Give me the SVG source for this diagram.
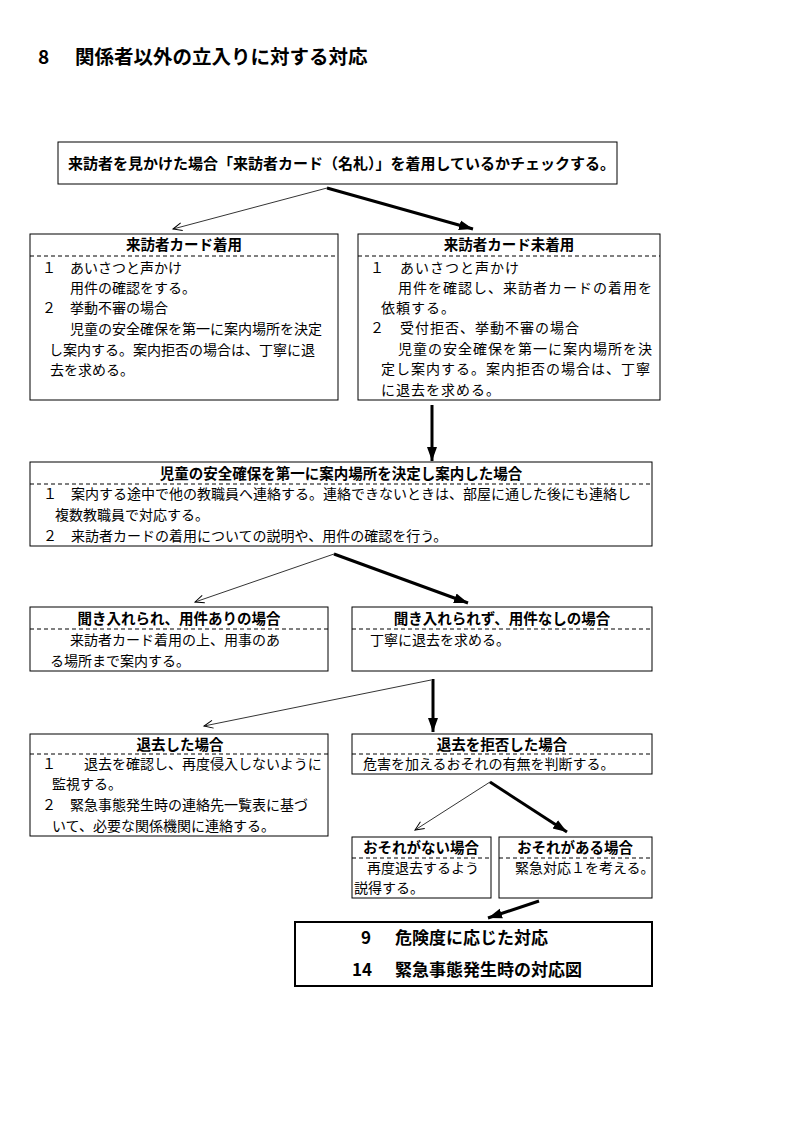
<svg xmlns="http://www.w3.org/2000/svg" width="794" height="1123" viewBox="0 0 794 1123">
<style>
text{font-family:"Noto Sans CJK JP","Noto Sans CJK SC",sans-serif;fill:#000}
.t{font-size:14.5px;font-weight:bold;text-anchor:middle}
.b{font-size:14px}
.w{font-size:14px;letter-spacing:1px}
.r{font-size:17px;font-weight:bold}
.box{fill:#fff;stroke:#000;stroke-width:1}
.dash{stroke:#000;stroke-width:1;stroke-dasharray:4 3}
.thin{stroke:#000;stroke-width:0.8;fill:none;marker-end:url(#ao)}
.thick{stroke:#000;stroke-width:3;fill:none;marker-end:url(#af)}
</style>
<defs>
<marker id="ao" markerUnits="userSpaceOnUse" markerWidth="12" markerHeight="10" refX="10" refY="5" orient="auto">
<path d="M1,1 L10,5 L1,9" fill="none" stroke="#000" stroke-width="1"/>
</marker>
<marker id="af" markerUnits="userSpaceOnUse" markerWidth="16" markerHeight="12" refX="14" refY="6" orient="auto">
<path d="M0,1 L14,6 L0,11 Z" fill="#000"/>
</marker>
</defs>
<rect width="794" height="1123" fill="#fff"/>
<g id="title">
<text x="38" y="64" style="font-size:19px;font-weight:bold">8</text>
<text x="75" y="64" style="font-size:19.5px;font-weight:bold">関係者以外の立入りに対する対応</text>
</g>

<g id="connectors">
<line class="thin" x1="327" y1="188" x2="173" y2="229"/>
<line class="thick" x1="327" y1="188" x2="473" y2="229"/>
<line class="thick" x1="432" y1="405" x2="432" y2="461"/>
<line class="thin" x1="334" y1="554" x2="195" y2="602"/>
<line class="thick" x1="334" y1="554" x2="468" y2="603"/>
<line class="thin" x1="431" y1="680" x2="204" y2="726"/>
<line class="thick" x1="433" y1="679" x2="433" y2="732"/>
<line class="thin" x1="490" y1="782" x2="415" y2="830"/>
<line class="thick" x1="490" y1="782" x2="567" y2="832"/>
<line class="thick" x1="539" y1="901" x2="488" y2="918"/>
</g>

<g id="start">
<rect class="box" x="58" y="142" width="559" height="42"/>
<text x="68" y="169" style="font-size:15px;font-weight:bold">来訪者を見かけた場合「来訪者カード（名札）」を着用しているかチェックする。</text>
</g>

<g id="card-worn">
<rect class="box" x="30" y="234" width="308" height="166"/>
<text class="t" x="184" y="250">来訪者カード着用</text>
<line class="dash" x1="30" y1="256" x2="338" y2="256"/>
<text class="b" x="42" y="273">１　あいさつと声かけ</text>
<text class="b" x="70" y="293">用件の確認をする。</text>
<text class="b" x="42" y="313">２　挙動不審の場合</text>
<text class="b" x="70" y="334">児童の安全確保を第一に案内場所を決定</text>
<text class="b" x="49" y="355">し案内する。案内拒否の場合は、丁寧に退</text>
<text class="b" x="50" y="375">去を求める。</text>
</g>

<g id="card-not-worn">
<rect class="box" x="358" y="234" width="302" height="166"/>
<text class="t" x="509" y="250">来訪者カード未着用</text>
<line class="dash" x1="358" y1="256" x2="660" y2="256"/>
<text class="w" x="370" y="273">１　あいさつと声かけ</text>
<text class="w" x="398" y="293">用件を確認し、来訪者カードの着用を</text>
<text class="w" x="381" y="313">依頼する。</text>
<text class="w" x="370" y="333">２　受付拒否、挙動不審の場合</text>
<text class="w" x="398" y="354">児童の安全確保を第一に案内場所を決</text>
<text class="w" x="381" y="374">定し案内する。案内拒否の場合は、丁寧</text>
<text class="w" x="381" y="395">に退去を求める。</text>
</g>

<g id="guided">
<rect class="box" x="30" y="462" width="622" height="84"/>
<text class="t" x="341" y="479">児童の安全確保を第一に案内場所を決定し案内した場合</text>
<line class="dash" x1="30" y1="484" x2="652" y2="484"/>
<text class="b" x="43" y="499">１　案内する途中で他の教職員へ連絡する。連絡できないときは、部屋に通した後にも連絡し</text>
<text class="b" x="55" y="520">複数教職員で対応する。</text>
<text class="b" x="43" y="541">２　来訪者カードの着用についての説明や、用件の確認を行う。</text>
</g>

<g id="accepted">
<rect class="box" x="30" y="607" width="298" height="64"/>
<text class="t" x="179" y="624">聞き入れられ、用件ありの場合</text>
<line class="dash" x1="30" y1="629" x2="328" y2="629"/>
<text class="b" x="70" y="645">来訪者カード着用の上、用事のあ</text>
<text class="b" x="50" y="666">る場所まで案内する。</text>
</g>

<g id="not-accepted">
<rect class="box" x="352" y="607" width="300" height="64"/>
<text class="t" x="502" y="624">聞き入れられず、用件なしの場合</text>
<line class="dash" x1="352" y1="629" x2="652" y2="629"/>
<text class="b" x="370" y="645">丁寧に退去を求める。</text>
</g>

<g id="left">
<rect class="box" x="30" y="734" width="298" height="102"/>
<text class="t" x="180" y="750">退去した場合</text>
<line class="dash" x1="30" y1="754" x2="328" y2="754"/>
<text class="b" x="42" y="769">１　　退去を確認し、再度侵入しないように</text>
<text class="b" x="52" y="789">監視する。</text>
<text class="b" x="42" y="810">２　緊急事態発生時の連絡先一覧表に基づ</text>
<text class="b" x="52" y="831">いて、必要な関係機関に連絡する。</text>
</g>

<g id="refused">
<rect class="box" x="352" y="734" width="300" height="40"/>
<text class="t" x="502" y="750">退去を拒否した場合</text>
<line class="dash" x1="352" y1="754" x2="652" y2="754"/>
<text class="b" x="363" y="769">危害を加えるおそれの有無を判断する。</text>
</g>

<g id="no-threat">
<rect class="box" x="352" y="837" width="139" height="61"/>
<text class="t" x="421" y="853">おそれがない場合</text>
<line class="dash" x1="352" y1="858" x2="491" y2="858"/>
<text class="b" x="367" y="873">再度退去するよう</text>
<text class="b" x="354" y="893">説得する。</text>
</g>

<g id="threat">
<rect class="box" x="499" y="837" width="153" height="61"/>
<text class="t" x="575" y="853">おそれがある場合</text>
<line class="dash" x1="499" y1="858" x2="652" y2="858"/>
<text class="b" x="515" y="873">緊急対応１を考える。</text>
</g>

<g id="refs">
<rect x="295" y="922" width="357" height="64" fill="#fff" stroke="#000" stroke-width="2"/>
<text class="r" x="361" y="944">9</text>
<text class="r" x="395" y="944">危険度に応じた対応</text>
<text class="r" x="352" y="976">14</text>
<text class="r" x="395" y="976">緊急事態発生時の対応図</text>
</g>
</svg>
